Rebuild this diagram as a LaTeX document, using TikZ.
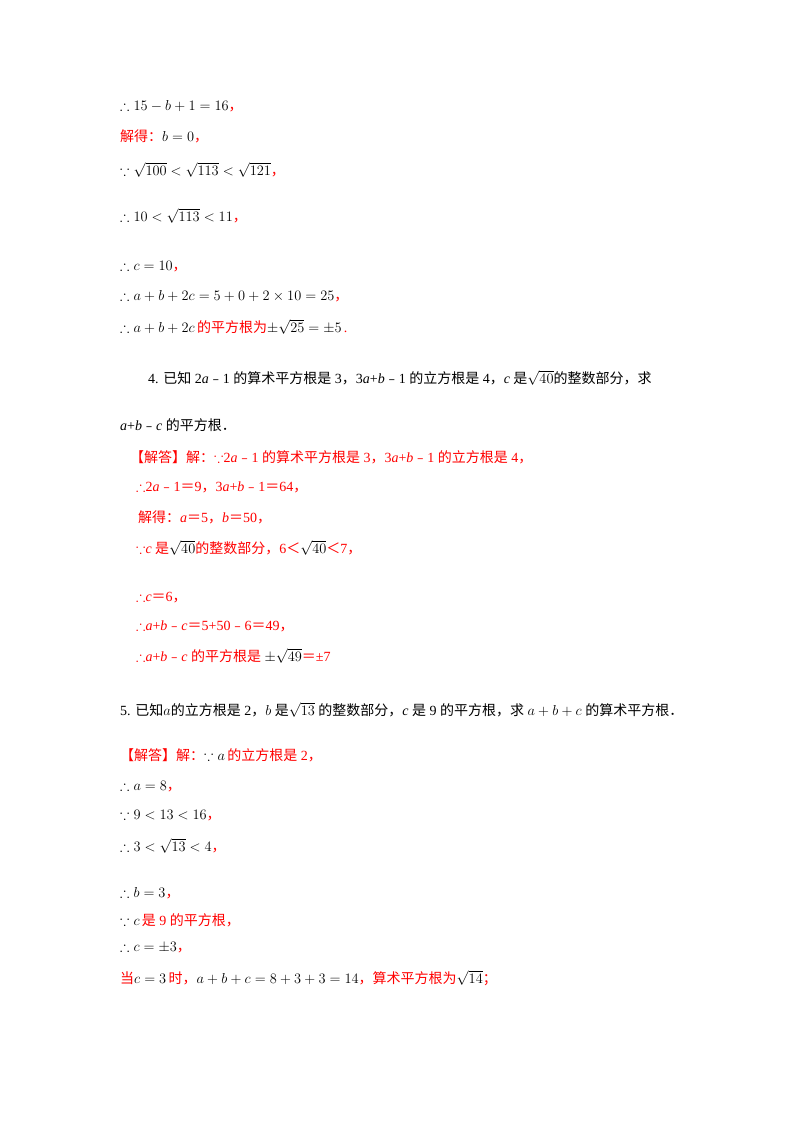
\documentclass[tikz,border=0pt]{standalone}
\usepackage{amssymb}
\usepackage{fontspec}
\setmainfont{Liberation Serif}
\newfontfamily\cjk{Noto Sans CJK SC}
\newcommand{\zh}[1]{{\cjk #1}}
\newcommand{\R}[1]{\textcolor{red}{#1}}
\newcommand{\mi}{{\cjk ﹣}}
\newcommand{\cm}{\R{{\cjk ，}}}
\begin{document}
\begin{tikzpicture}[x=1pt,y=-1pt,
  ln/.style={anchor=west,inner sep=0pt,font=\fontsize{14}{16}\selectfont}]
\useasboundingbox (0,0) rectangle (800,1132);
\fill[white] (0,0) rectangle (800,1132);
\node[ln] (l1) at (120,106) {$\therefore 15-b+1=16$\cm};
\node[ln] (l2) at (120,136) {\R{\zh{解得：}}$b=0$\cm};
\node[ln] (l3) at (120,170) {$\because\sqrt{100}<\sqrt{113}<\sqrt{121}$\cm};
\node[ln] (l4) at (120,216) {$\therefore 10<\sqrt{113}<11$\cm};
\node[ln] (l5) at (120,266) {$\therefore c=10$\cm};
\node[ln] (l6) at (120,296) {$\therefore a+b+2c=5+0+2\times10=25$\cm};
\node[ln] (l7) at (120,327) {$\therefore a+b+2c$\,\R{\zh{的平方根为}}$\pm\sqrt{25}=\pm5$\,\R{.}};
\node[ln] (l8) at (148,378) {4. \zh{已知} 2\textit{a}\mi1 \zh{的算术平方根是} 3\zh{，}3\textit{a}+\textit{b}\mi1 \zh{的立方根是} 4\zh{，}\textit{c} \zh{是}$\sqrt{40}$\zh{的整数部分，求}};
\node[ln] (l9) at (120,425) {\textit{a}+\textit{b}\mi\textit{c} \zh{的平方根．}};
\node[ln,red] (l10) at (130,457) {\zh{【解答】解：}$\because$2\textit{a}\mi1 \zh{的算术平方根是} 3\zh{，}3\textit{a}+\textit{b}\mi1 \zh{的立方根是} 4\zh{，}};
\node[ln,red] (l11) at (136,487) {$\therefore$2\textit{a}\mi1\zh{＝}9\zh{，}3\textit{a}+\textit{b}\mi1\zh{＝}64\zh{，}};
\node[ln,red] (l12) at (138,517) {\zh{解得：}\textit{a}\zh{＝}5\zh{，}\textit{b}\zh{＝}50\zh{，}};
\node[ln,red] (l13) at (136,548) {$\because$\textit{c} \zh{是}\textcolor{black}{$\sqrt{40}$}\zh{的整数部分，}6\zh{＜}\textcolor{black}{$\sqrt{40}$}\zh{＜}7\zh{，}};
\node[ln,red] (l14) at (136,597) {$\therefore$\textit{c}\zh{＝}6\zh{，}};
\node[ln,red] (l15) at (136,626) {$\therefore$\textit{a}+\textit{b}\mi\textit{c}\zh{＝}5+50\mi6\zh{＝}49\zh{，}};
\node[ln,red] (l16) at (136,656) {$\therefore$\textit{a}+\textit{b}\mi\textit{c} \zh{的平方根是} \textcolor{black}{$\pm\sqrt{49}$}\zh{＝}±7};
\node[ln] (l17) at (120,710) {5. \zh{已知}$a$\zh{的立方根是} 2\zh{，}$b$ \zh{是}$\sqrt{13}$ \zh{的整数部分，}\textit{c} \zh{是} 9 \zh{的平方根，求} $a+b+c$ \zh{的算术平方根．}};
\node[ln] (l18) at (120,755) {\R{\zh{【解答】解：}}$\because a$\,\R{\zh{的立方根是} 2\zh{，}}};
\node[ln] (l19) at (120,786) {$\therefore a=8$\cm};
\node[ln] (l20) at (120,815) {$\because 9<13<16$\cm};
\node[ln] (l21) at (120,846) {$\therefore 3<\sqrt{13}<4$\cm};
\node[ln] (l22) at (120,893) {$\therefore b=3$\cm};
\node[ln] (l23) at (120,920) {$\because c$\,\R{\zh{是} 9 \zh{的平方根，}}};
\node[ln] (l24) at (120,947) {$\therefore c=\pm3$\cm};
\node[ln] (l25) at (120,978) {\R{\zh{当}}$c=3$\,\R{\zh{时，}}$a+b+c=8+3+3=14$\R{\zh{，算术平方根为}}$\sqrt{14}$\R{\zh{；}}};
\end{tikzpicture}
\end{document}
